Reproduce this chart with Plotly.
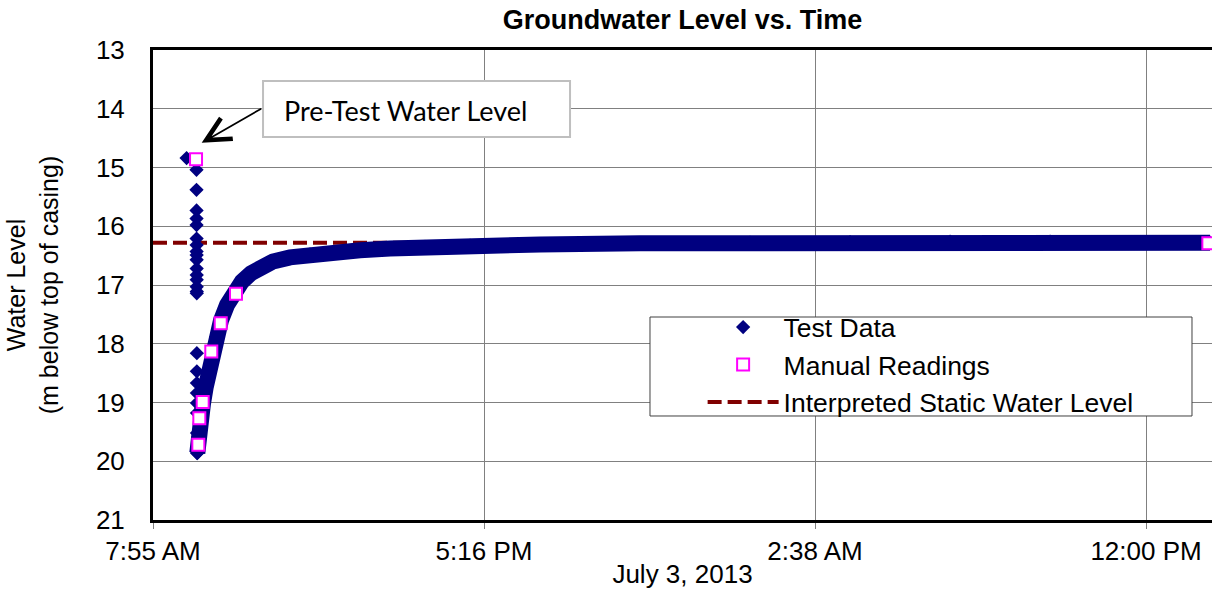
import pandas as pd
import plotly.graph_objects as go

# Monitoring well recovery test, 3-4 July 2013.
# Times are minutes after 07:55 on July 3; levels are metres below top of casing.
START = pd.Timestamp("2013-07-03 07:55")

# Pre-test reading followed by the purge drawdown
drawdown_min = [57.0, 73.8, 73.8, 73.9, 73.9, 73.9, 74.0, 74.0, 74.0, 74.1, 74.1,
                74.1, 74.2, 74.2, 74.2, 74.3, 74.3, 74.4, 74.4, 74.5, 74.5,
                74.6, 74.6, 74.7, 74.8]
drawdown_level = [14.84, 15.04, 15.38, 15.73, 15.87, 15.98, 16.21, 16.32, 16.43,
                  16.49, 16.57, 16.72, 16.83, 16.91, 17.03, 17.11, 17.14, 18.16,
                  18.47, 18.67, 18.84, 19.01, 19.18, 19.52, 19.86]

# Transducer record during recovery
recovery_min = [75.2, 76.9, 80.9, 84.8, 89.4, 94.5, 100.6, 107.4, 115.4, 125.6,
                137.5, 151.0, 166.3, 183.2, 203.6, 232.5, 266.4, 308.8, 351.2,
                402.1, 461.5, 537.9, 656.6, 826.3, 1012.9, 1182.6, 1352.3,
                1522.0, 1691.6, 1793.4]
recovery_level = [19.86, 19.58, 19.30, 19.02, 18.74, 18.46, 18.17, 17.88, 17.60,
                  17.34, 17.12, 16.94, 16.80, 16.69, 16.60, 16.53, 16.48, 16.44,
                  16.41, 16.38, 16.35, 16.33, 16.31, 16.29, 16.28, 16.27, 16.26,
                  16.26, 16.27, 16.28]

# Manual dip-meter readings
manual_min = [73.0, 76.9, 78.6, 84.3, 98.9, 114.9, 140.8, 1790.5]
manual_level = [14.86, 19.72, 19.27, 18.99, 18.13, 17.65, 17.15, 16.29]

# Interpreted static water level
static_min = [0.0, 1797.0]
static_level = [16.28, 16.28]

# Axis ticks (Excel-style major unit of 0.39 day)
tick_min = [0.0, 561.6, 1123.2, 1684.8]
tick_text = ["7:55 AM", "5:16 PM", "2:38 AM", "12:00 PM"]
axis_end_min = 1796.7
level_range = [21, 13]


def to_time(minutes):
    return [START + pd.Timedelta(minutes=m) for m in minutes]


FONT = "Liberation Sans, Arial, sans-serif"
NAVY = "#000080"
MAGENTA = "#FF00FF"
DARKRED = "#800000"
GRID = "#808080"

fig = go.Figure()

fig.add_trace(go.Scatter(
    x=to_time(static_min), y=static_level, mode="lines",
    name="Interpreted Static Water Level", legendrank=3,
    line=dict(color=DARKRED, width=4, dash="14px,6px"),
))

# dense logger record renders as a solid band
fig.add_trace(go.Scatter(
    x=to_time(recovery_min), y=recovery_level, mode="lines",
    showlegend=False, hoverinfo="skip",
    line=dict(color=NAVY, width=16),
))

fig.add_trace(go.Scatter(
    x=to_time(drawdown_min + recovery_min), y=drawdown_level + recovery_level,
    mode="markers", name="Test Data", legendrank=1,
    marker=dict(symbol="diamond", size=11, color=NAVY),
))

fig.add_trace(go.Scatter(
    x=to_time(manual_min), y=manual_level, mode="markers",
    name="Manual Readings", legendrank=2,
    marker=dict(symbol="square", size=12, color="white",
                line=dict(color=MAGENTA, width=2)),
))

fig.update_layout(
    width=1212, height=600,
    margin=dict(l=153, r=0, t=50, b=80),
    paper_bgcolor="white", plot_bgcolor="white",
    font=dict(family=FONT, size=26, color="black"),
    title=dict(text="<b>Groundwater Level vs. Time</b>", font=dict(size=27),
               x=0.5, xref="paper", xanchor="center",
               y=1 - 20 / 600, yref="container", yanchor="middle"),
    showlegend=True,
    legend=dict(x=0.519, y=0.461, xanchor="left", yanchor="top",
                bgcolor="rgba(0,0,0,0)", borderwidth=0, itemwidth=71,
                font=dict(size=26.5)),
    shapes=[
        # legend frame
        dict(type="rect", xref="paper", yref="paper",
             x0=0.4693, x1=0.9811, y0=0.2213, y1=0.4319,
             fillcolor="white", line=dict(color="#404040", width=1), layer="above"),
        # callout frame
        dict(type="rect", xref="paper", yref="paper",
             x0=0.1039, x1=0.3938, y0=0.815, y1=0.934,
             fillcolor="white", line=dict(color="#BFBFBF", width=2), layer="above"),
    ],
    annotations=[
        dict(text="Pre-Test Water Level", xref="paper", yref="paper",
             x=0.1215, y=0.8723, xanchor="left", yanchor="middle", showarrow=False,
             font=dict(family="Lato, Open Sans, sans-serif", size=27)),
        dict(text="", x=START + pd.Timedelta(minutes=82.6), y=14.58,
             xref="x", yref="y", showarrow=True, arrowhead=5, arrowsize=2.6,
             arrowwidth=1.8, arrowcolor="black", axref="pixel", ayref="pixel",
             ax=61, ay=-35),
    ],
    # overlay axis carrying only the short visible tick marks
    yaxis2=dict(
        overlaying="y", anchor="x", side="left", range=level_range,
        tickmode="linear", tick0=13, dtick=1, showticklabels=False,
        ticks="outside", ticklen=7, tickcolor=GRID, showgrid=False,
        showline=False, zeroline=False,
    ),
)

fig.update_xaxes(
    type="date",
    range=[START, START + pd.Timedelta(minutes=axis_end_min)],
    tickvals=to_time(tick_min), ticktext=tick_text,
    tickfont=dict(size=26),
    showgrid=True, gridcolor=GRID, gridwidth=1,
    showline=True, linecolor="black", linewidth=3, mirror=True,
    ticks="outside", ticklen=6, tickcolor=GRID,
    title=dict(text="July 3, 2013", standoff=0, font=dict(size=26)),
    zeroline=False,
)

fig.update_yaxes(
    selector=dict(overlaying=None),
    range=level_range, tickmode="linear", tick0=13, dtick=1,
    tickfont=dict(size=26),
    showgrid=True, gridcolor=GRID, gridwidth=1,
    showline=True, linecolor="black", linewidth=3, mirror=False,
    ticks="outside", ticklen=20, tickcolor="rgba(0,0,0,0)",
    title=dict(text="Water Level<br>(m below top of casing)", standoff=31,
               font=dict(size=25)),
    zeroline=False,
)

fig.write_html("out.html")
